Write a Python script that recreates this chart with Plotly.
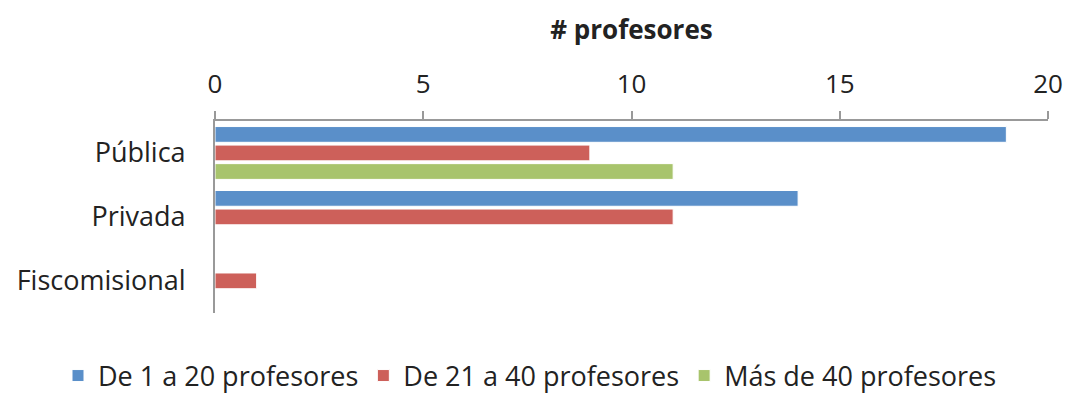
import plotly.graph_objects as go

categories = ["Pública", "Privada", "Fiscomisional"]
series_names = ["De 1 a 20 profesores", "De 21 a 40 profesores", "Más de 40 profesores"]
s1 = [19, 14, 0]
s2 = [9, 11, 1]
s3 = [11, 0, 0]
colors = ["#5A8FC9", "#CD605A", "#A8C46C"]
tick_vals = [0, 5, 10, 15, 20]

FONT = "Open Sans"
W, H = 1063, 387          # page body has an 8px margin, figure sits 8px in
PL, PR, PT, PB = 207, 1040, 113, 305   # plot-area box in figure pixels
LEG_Y = 368               # legend centre in figure pixels
RESERVED = 43.3           # bottom space plotly reserves for the container legend

fig = go.Figure()
for name, vals, c in zip(series_names, [s1, s2, s3], colors):
    fig.add_trace(go.Bar(
        y=categories, x=vals, name=name, orientation="h",
        marker=dict(color=c, line=dict(color="white", width=1)),
    ))

fig.update_layout(
    width=W, height=H,
    margin=dict(l=0, r=0, t=PT, b=0),
    paper_bgcolor="white", plot_bgcolor="white",
    barmode="group", bargap=0.13, bargroupgap=0.15,
    font=dict(family=FONT, size=26, color="#222222"),
    showlegend=True,
    legend=dict(orientation="h", xref="container", yref="container",
                x=50 / W, xanchor="left", y=1 - LEG_Y / H, yanchor="middle",
                font=dict(size=27), itemwidth=30, tracegroupgap=0),
    xaxis=dict(
        domain=[PL / W, PR / W],
        side="top", range=[0, 20], tickvals=tick_vals, showgrid=False,
        showline=True, linecolor="#999999", linewidth=2,
        ticks="outside", ticklen=8, tickcolor="#999999", tickwidth=2,
        zeroline=False, ticklabelstandoff=8, automargin=False,
        tickfont=dict(size=26),
        title=dict(text="<b># profesores</b>", font=dict(size=26), standoff=17),
    ),
    yaxis=dict(
        domain=[(H - RESERVED - PB) / (H - RESERVED - PT), 1],
        autorange="reversed", showgrid=False, showline=True, automargin=False,
        linecolor="#999999", linewidth=2, ticks="", ticklabelstandoff=22,
        tickfont=dict(size=27),
    ),
)

fig.write_html("out.html")
